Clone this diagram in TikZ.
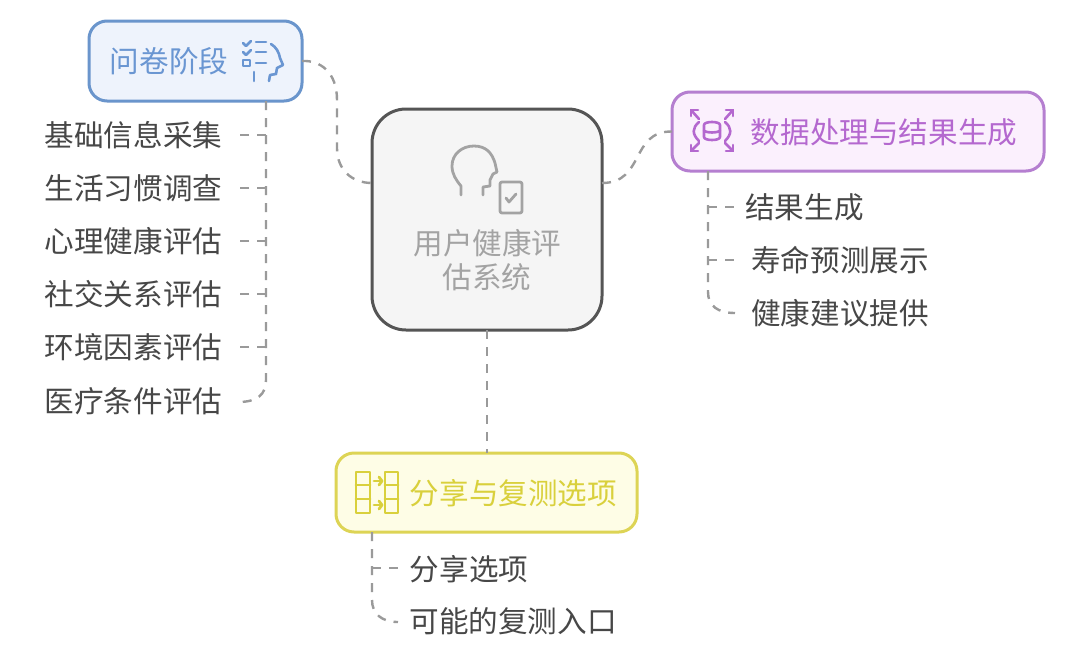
\documentclass[tikz,border=0pt]{standalone}
\usepackage{fontspec}
\setmainfont{Noto Sans CJK SC}
\usetikzlibrary{calc}
\definecolor{qline}{HTML}{6A95CC}
\definecolor{qfill}{HTML}{EEF3FC}
\definecolor{qtext}{HTML}{6A96D2}
\definecolor{pline}{HTML}{B57FD0}
\definecolor{pfill}{HTML}{FBF0FD}
\definecolor{ptext}{HTML}{B468CF}
\definecolor{yline}{HTML}{DDD455}
\definecolor{yfill}{HTML}{FEFDE6}
\definecolor{ytext}{HTML}{D9D03C}
\definecolor{cline}{HTML}{555555}
\definecolor{cfill}{HTML}{F5F5F5}
\definecolor{ctext}{HTML}{A3A3A3}
\definecolor{leaf}{HTML}{474747}
\definecolor{conn}{HTML}{9A9A9A}
\tikzset{
 x=1pt,y=-1pt,
 conbox/.style={draw,line width=3pt,rounded corners=#1,inner sep=0pt,outer sep=0pt,anchor=north west},
 qbox/.style={conbox=18pt,draw=qline,fill=qfill,minimum width=213pt,minimum height=80pt},
 pbox/.style={conbox=18pt,draw=pline,fill=pfill,minimum width=372pt,minimum height=79pt},
 ybox/.style={conbox=18pt,draw=yline,fill=yfill,minimum width=301pt,minimum height=79pt},
 cbox/.style={conbox=34pt,draw=cline,fill=cfill,minimum width=230pt,minimum height=221pt},
 lbl/.style={font=\fontsize{29.6}{34}\selectfont,inner sep=0pt,anchor=center},
 leafnode/.style={lbl,text=leaf},
 link/.style={draw=conn,line width=2.4pt,dash pattern=on 9pt off 8pt},
 ico/.style={line width=2.8pt,line cap=round,line join=round},
}
\begin{document}
\begin{tikzpicture}
\useasboundingbox (0,0) rectangle (1080,651);
\fill[white] (0,0) rectangle (1080,651);
% connectors first
\coordinate (ql) at (266,101);
\coordinate (pl) at (708,171);
\coordinate (yl) at (372,532);
\coordinate (a1) at (240,135);\coordinate (a2) at (240,188);\coordinate (a3) at (240,241);
\coordinate (a4) at (240,294);\coordinate (a5) at (240,347);\coordinate (a6) at (238,402);
\coordinate (b1) at (735,207);\coordinate (b2) at (735,260);\coordinate (b3) at (735,313);
\coordinate (c1) at (398,568);\coordinate (c2) at (398,622);
\coordinate (cw) at (372,183);\coordinate (ce) at (602,183);\coordinate (cs) at (487,330);\coordinate (yn) at (487,453);
\node[cbox] (center) at (372,109) {};
\node[qbox] (q) at (89,21) {};
\node[pbox] (p) at (672,92) {};
\node[ybox] (y) at (336,453) {};
\path[link] (q.east) .. controls (320,60) and (337,72) .. (337,100) -- (337,148) .. controls (337,170) and (352,183) .. (cw);
\path[link] (ce) .. controls (645,183) and (630,131) .. (p.west);
\path[link] (cs) -- (yn);
\path[link] (ql) -- (266,380) .. controls (266,394) and (258,402) .. (a6);
\path[link] (266,135) -- (a1);
\path[link] (266,188) -- (a2);
\path[link] (266,241) -- (a3);
\path[link] (266,294) -- (a4);
\path[link] (266,347) -- (a5);
\path[link] (pl) -- (708,292) .. controls (708,306) and (718,313) .. (b3);
\path[link] (708,207) -- (b1);
\path[link] (708,260) -- (b2);
\path[link] (yl) -- (372,600) .. controls (372,614) and (382,622) .. (c2);
\path[link] (372,568) -- (c1);
% box labels
\node[lbl,text=qtext] (qt) at (169,61) {问卷阶段};
\node[lbl,text=ptext] (pt) at (884,132) {数据处理与结果生成};
\node[lbl,text=ytext] (yt) at (513.5,493) {分享与复测选项};
\node[lbl,text=ctext] (ct1) at (487.5,243) {用户健康评};
\node[lbl,text=ctext] (ct2) at (487,277) {估系统};
% leaves
\node[leafnode] (l1) at (133.5,135) {基础信息采集};
\node[leafnode] (l2) at (133.5,188) {生活习惯调查};
\node[leafnode] (l3) at (133.5,241) {心理健康评估};
\node[leafnode] (l4) at (133.5,294) {社交关系评估};
\node[leafnode] (l5) at (133.5,347) {环境因素评估};
\node[leafnode] (l6) at (133.5,401) {医疗条件评估};
\node[leafnode] (r1) at (804.5,207) {结果生成};
\node[leafnode] (r2) at (840,260) {寿命预测展示};
\node[leafnode] (r3) at (840,313) {健康建议提供};
\node[leafnode] (s1) at (469,569) {分享选项};
\node[leafnode] (s2) at (513,621) {可能的复测入口};
% head icon (centre)
\begin{scope}[ico,draw=ctext]
\draw (461,195) -- (461,186) .. controls (456,180) and (452,174) .. (452,166)
  .. controls (452,154) and (462,146) .. (474,146) .. controls (486,146) and (492,153) .. (495,163)
  -- (497,172) -- (493,174) -- (490,180) -- (490,186) -- (483,187) -- (483,195);
\draw[rounded corners=2pt] (500,182) rectangle (522,213);
\draw (506,198) -- (509,202) -- (516,194);
\end{scope}
% questionnaire icon
\begin{scope}[ico,draw=qtext,line width=2.6pt]
\draw (243,43) -- (246,46) -- (251,41);
\draw (243,52) -- (246,55) -- (251,50);
\draw (243,60) rectangle (250,66);
\draw (256,42) -- (266,42);
\draw (256,52) -- (266,52);
\draw (256,63) -- (266,63);
\draw (254,72) -- (254,81);
\draw (271,44) .. controls (276,47) and (279,52) .. (280,58) -- (283,65) -- (277,68) -- (276,74) -- (270,75) -- (269,81);
\end{scope}
% data icon
\begin{scope}[ico,draw=ptext,line width=2.6pt]
\draw (699,119) -- (691,110);
\draw (691,116) -- (691,110) -- (698,110);
\draw (725,119) -- (733,110);
\draw (726,110) -- (733,110) -- (733,116);
\draw (699,143) -- (691,151);
\draw (691,145) -- (691,151) -- (698,151);
\draw (725,143) -- (733,151);
\draw (733,145) -- (733,151) -- (726,151);
\draw (704,125) .. controls (704,121) and (720,121) .. (720,125) -- (720,137) .. controls (720,141) and (704,141) .. (704,137) -- cycle;
\draw (704,131) .. controls (708,133) and (716,133) .. (720,131);
\draw (699,122) .. controls (692,128) and (692,134) .. (699,141);
\draw (725,122) .. controls (732,128) and (732,134) .. (725,141);
\end{scope}
% transfer icon
\begin{scope}[ico,draw=ytext,line width=2.8pt]
\draw (356,472) rectangle (370,513);
\draw (356,485) -- (370,485);
\draw (356,499) -- (370,499);
\draw (385,472) rectangle (398,513);
\draw (385,485) -- (398,485);
\draw (385,499) -- (398,499);
\draw (374,481) -- (382,481);
\draw (379,477) -- (382,481) -- (379,485);
\draw (374,505) -- (382,505);
\draw (379,501) -- (382,505) -- (379,509);
\end{scope}
\end{tikzpicture}
\end{document}
